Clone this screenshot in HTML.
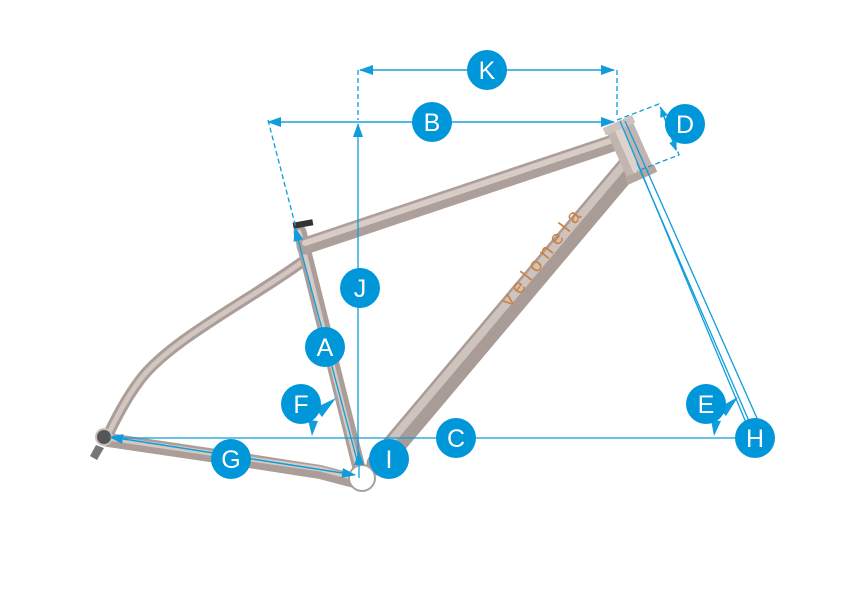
<!DOCTYPE html>
<html><head><style>
html,body{margin:0;padding:0;background:#fff;}
svg{display:block;}
text{font-family:"Liberation Sans",sans-serif;}
</style></head><body>
<svg width="842" height="595" viewBox="0 0 842 595" xmlns="http://www.w3.org/2000/svg">
<defs>
<marker id="ar" markerWidth="10" markerHeight="8" refX="9" refY="4" orient="auto" markerUnits="userSpaceOnUse">
<path d="M0,0 L10,4 L0,8 Z" fill="#0f9ddc"/></marker>
<marker id="ar2" markerWidth="14" markerHeight="10" refX="13" refY="5" orient="auto" markerUnits="userSpaceOnUse">
<path d="M0,0 L14,5 L0,10 Z" fill="#0f9ddc"/></marker>
</defs>
<g stroke-linecap="round" fill="none">
<path d="M302,262 C250,300 170,340 140,380 C125,400 115,420 108,435" stroke="#ab9d97" stroke-width="11"/>
<path d="M302,262 C250,300 170,340 140,380 C125,400 115,420 108,435" stroke="#d2c6c0" stroke-width="5"/>
<path d="M108,440 L230,458 L320,472 L358,482" stroke="#ab9d97" stroke-width="14"/>
<path d="M108,438 L230,456 L320,469 L358,479" stroke="#d4c8c2" stroke-width="5"/>
<line x1="300" y1="232" x2="360" y2="472" stroke="#ab9d97" stroke-width="13"/>
<line x1="299" y1="232" x2="359" y2="472" stroke="#d6cac4" stroke-width="5"/>
<line x1="305" y1="246" x2="622" y2="140" stroke="#ad9f99" stroke-width="17"/>
<line x1="305" y1="243" x2="622" y2="137" stroke="#d8ccc6" stroke-width="6"/>
<line x1="630" y1="165" x2="378" y2="464" stroke="#a99b95" stroke-width="23"/>
<line x1="626" y1="162" x2="374" y2="461" stroke="#cfc3bd" stroke-width="8"/>
</g>
<g transform="translate(630,150) rotate(-24)">
<rect x="-14" y="-29" width="28" height="58" fill="#c2b5af"/>
<rect x="-6" y="-29" width="8" height="58" fill="#ddd2cc"/>
<rect x="-16" y="-31" width="32" height="8" fill="#cfc3bd"/>
<rect x="-16" y="23" width="32" height="8" fill="#b3a59f"/>
</g>
<rect x="293" y="221" width="20" height="6" fill="#333" transform="rotate(-10 303 224)"/>
<circle cx="362" cy="478" r="13" fill="#fff" stroke="#a9a09c" stroke-width="2"/>
<circle cx="104" cy="437" r="8" fill="#555" stroke="#c8c0bb" stroke-width="2"/>
<path d="M96,445 L90,456 L97,460 L104,448 Z" fill="#777"/>
<text x="0" y="0" transform="translate(510,308) rotate(-52)" font-size="20" fill="#d0803a" letter-spacing="6">velonela</text>

<g stroke="#0f9ddc" stroke-width="1.3" fill="none">
<line x1="360" y1="70" x2="614" y2="70" marker-end="url(#ar2)"/>
<line x1="614" y1="70" x2="360" y2="70" marker-end="url(#ar2)"/>
<line x1="358" y1="70" x2="358" y2="120" stroke-dasharray="5,3"/>
<line x1="617" y1="70" x2="617" y2="118" stroke-dasharray="5,3"/>
<line x1="268" y1="122" x2="614" y2="122" marker-end="url(#ar2)"/>
<line x1="614" y1="122" x2="268" y2="122" marker-end="url(#ar2)"/>
<line x1="268" y1="120" x2="296" y2="228" stroke-dasharray="5,3"/>
<line x1="358" y1="460" x2="358" y2="124" marker-end="url(#ar2)"/>
<line x1="358" y1="464" x2="295" y2="228" marker-end="url(#ar2)"/>
<line x1="112" y1="437" x2="355" y2="475" marker-end="url(#ar2)"/>
<line x1="355" y1="475" x2="110" y2="437" marker-end="url(#ar2)"/>
<line x1="112" y1="438" x2="755" y2="438"/>
<line x1="359" y1="478" x2="359" y2="452" marker-end="url(#ar2)"/>
<line x1="620" y1="121" x2="747" y2="425"/>
<line x1="625" y1="121" x2="760" y2="425"/>
<line x1="637" y1="163" x2="752" y2="428"/>
<path d="M617,120 L659,104 L679,155 L637,171" stroke-dasharray="5,3"/>
<line x1="661" y1="108" x2="676" y2="150" marker-end="url(#ar)"/>
<line x1="676" y1="150" x2="661" y2="108" marker-end="url(#ar)"/>
</g>
<g fill="#0f9ddc">
<path d="M315,408 L336,398 L322,417 Z"/>
<path d="M308,420 L318,421 L312,436 Z"/>
<path d="M718,408 L738,397 L726,416 Z"/>
<path d="M711,420 L721,421 L714,436 Z"/>
</g>
<g fill="#0096da">
<circle cx="487" cy="70" r="20"/><circle cx="432" cy="122" r="20"/>
<circle cx="685" cy="124" r="20"/><circle cx="360" cy="288" r="20"/>
<circle cx="325" cy="347" r="20"/><circle cx="301" cy="404" r="20"/>
<circle cx="706" cy="404" r="20"/><circle cx="456" cy="438" r="20"/>
<circle cx="755" cy="438" r="20"/><circle cx="231" cy="459" r="20"/>
<circle cx="389" cy="459" r="20"/>
</g>
<g fill="#fff" font-size="25" text-anchor="middle">
<text x="487" y="79">K</text><text x="432" y="131">B</text>
<text x="685" y="133">D</text><text x="360" y="297">J</text>
<text x="325" y="356">A</text><text x="301" y="413">F</text>
<text x="706" y="413">E</text><text x="456" y="447">C</text>
<text x="755" y="447">H</text><text x="231" y="468">G</text>
<text x="389" y="468">I</text>
</g>
</svg>
</body></html>
